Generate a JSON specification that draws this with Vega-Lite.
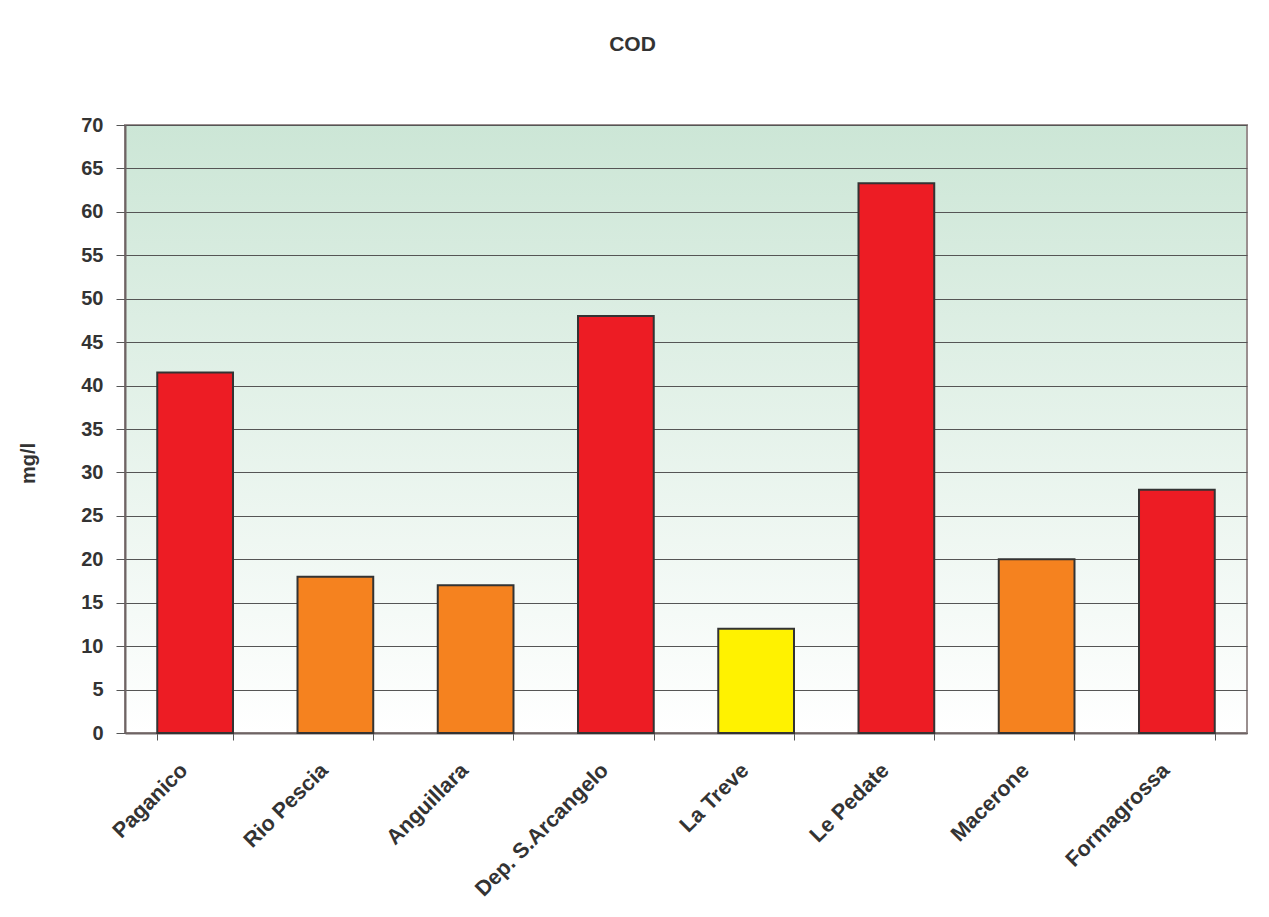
{
  "$schema": "https://vega.github.io/schema/vega-lite/v6.json",
  "width": 1122,
  "height": 608,
  "autosize": "none",
  "padding": {"left": 125, "top": 125, "right": 22, "bottom": 184},
  "background": "white",
  "title": {
    "text": "COD",
    "frame": "bounds",
    "anchor": "middle",
    "offset": 60,
    "font": "Liberation Sans",
    "fontSize": 21,
    "fontWeight": "bold",
    "color": "#333333"
  },
  "data": {
    "values": [
      {"stazione": "Paganico", "cod": 41.5},
      {"stazione": "Rio Pescia", "cod": 18},
      {"stazione": "Anguillara", "cod": 17},
      {"stazione": "Dep. S.Arcangelo", "cod": 48},
      {"stazione": "La Treve", "cod": 12},
      {"stazione": "Le Pedate", "cod": 63.3},
      {"stazione": "Macerone", "cod": 20},
      {"stazione": "Formagrossa", "cod": 28}
    ]
  },
  "mark": {"type": "bar", "stroke": "#333333", "strokeWidth": 2},
  "encoding": {
    "x": {
      "field": "stazione",
      "type": "nominal",
      "sort": null,
      "scale": {"paddingInner": 0.46, "paddingOuter": 0.23},
      "axis": {
        "title": null,
        "labelAngle": -45,
        "labelAlign": "right",
        "labelBaseline": "middle",
        "labelFont": "Liberation Sans",
        "labelFontSize": 21.5,
        "labelFontWeight": "bold",
        "labelColor": "#333333",
        "labelPadding": 27,
        "labelOffset": -11,
        "tickBand": "extent",
        "tickSize": 7,
        "tickColor": "#555555",
        "domainColor": "#6e6464",
        "domainWidth": 2,
        "grid": false
      }
    },
    "y": {
      "field": "cod",
      "type": "quantitative",
      "scale": {"domain": [0, 70], "nice": false},
      "axis": {
        "values": [0, 5, 10, 15, 20, 25, 30, 35, 40, 45, 50, 55, 60, 65, 70],
        "title": "mg/l",
        "titleFont": "Liberation Sans",
        "titleFontSize": 20,
        "titleFontWeight": "bold",
        "titleColor": "#333333",
        "titleX": -87,
        "titleY": 338,
        "labelFont": "Liberation Sans",
        "labelFontSize": 20,
        "labelFontWeight": "bold",
        "labelColor": "#333333",
        "labelPadding": 13,
        "tickSize": 9,
        "tickColor": "#555555",
        "domainColor": "#6e6464",
        "domainWidth": 2,
        "grid": true,
        "gridColor": "#555555",
        "gridWidth": 1
      }
    },
    "color": {
      "field": "cod",
      "type": "quantitative",
      "scale": {
        "type": "threshold",
        "domain": [15, 25],
        "range": ["#FFF200", "#F5821F", "#ED1C24"]
      },
      "legend": null
    }
  },
  "config": {
    "view": {
      "fill": {
        "gradient": "linear",
        "x1": 0, "y1": 0, "x2": 0, "y2": 1,
        "stops": [
          {"offset": 0, "color": "#cce6d6"},
          {"offset": 1, "color": "#ffffff"}
        ]
      },
      "stroke": "#9a8f8f",
      "strokeWidth": 2
    }
  }
}
